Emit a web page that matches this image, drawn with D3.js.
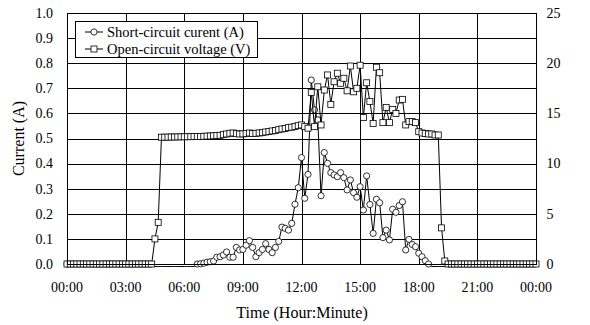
<!DOCTYPE html>
<html>
<head>
<meta charset="utf-8">
<script src="https://cdn.jsdelivr.net/npm/d3@7"></script>
<style>
  html, body { margin: 0; padding: 0; background: #fff; }
  svg { display: block; }
  text { font-family: "Liberation Serif", "Times New Roman", serif; fill: #000; }
</style>
</head>
<body>
<svg id="chart" width="590" height="325"></svg>
<script>
// ---- Data (10-minute samples, 00:00 .. 24:00) ----
const xTickLabels = ["00:00","03:00","06:00","09:00","12:00","15:00","18:00","21:00","00:00"];
const xTickHours = [0,3,6,9,12,15,18,21,24];
const yLeftTicks = [0.0,0.1,0.2,0.3,0.4,0.5,0.6,0.7,0.8,0.9,1.0];
const yRightTicks = [0,5,10,15,20,25];
const seriesNames = ["Short-circuit curent (A)", "Open-circuit voltage (V)"];

const currentA = [
  0,
  -0.01,-0.01,-0.01,-0.01,-0.01,-0.01,-0.01,-0.01,-0.01,-0.01,
  -0.01,-0.01,-0.01,-0.01,-0.01,-0.01,-0.01,-0.01,-0.01,-0.01,
  -0.01,-0.01,-0.01,-0.01,-0.01,-0.01,-0.01,-0.01,-0.01,-0.01,
  -0.01,-0.01,-0.01,-0.01,-0.01,-0.01,-0.01,-0.01,-0.01,
  0.000,0.001,0.003,0.007,0.009,0.012,0.027,0.029,0.036,0.048,
  0.027,0.027,0.066,0.056,0.058,0.075,0.093,0.066,0.029,0.045,
  0.058,0.081,0.058,0.045,0.066,0.090,0.147,0.142,0.135,0.162,
  0.238,0.304,0.424,0.262,0.357,0.733,0.614,0.574,0.272,0.444,
  0.401,0.364,0.355,0.348,0.364,0.344,0.295,0.335,0.284,0.266,
  0.308,0.215,0.351,0.237,0.122,0.258,0.244,0.105,0.135,0.096,
  0.218,0.206,0.233,0.248,0.056,0.098,0.078,0.069,0.043,0.029,
  0.013,0.000,
  -0.01,-0.01,-0.01,-0.01,-0.01,-0.01,-0.01,-0.01,-0.01,-0.01,
  -0.01,-0.01,-0.01,-0.01,-0.01,-0.01,-0.01,-0.01,-0.01,-0.01,
  -0.01,-0.01,-0.01,-0.01,-0.01,-0.01,-0.01,-0.01,-0.01,-0.01,
  -0.01,-0.01,-0.01
];

const voltageV = [
  0,0,0,0,0,0,0,0,0,0,
  0,0,0,0,0,0,0,0,0,0,
  0,0,0,0,0,0,0,
  2.50,4.15,12.63,
  12.63,12.64,12.65,12.65,12.66,12.67,12.67,12.68,12.68,12.70,
  12.70,12.71,12.72,12.74,12.75,12.77,12.80,12.82,12.88,12.95,
  13.02,13.05,12.98,12.95,12.96,13.00,13.05,13.00,13.02,13.05,
  13.08,13.15,13.20,13.25,13.30,13.38,13.45,13.50,13.58,13.63,
  13.70,13.78,13.85,13.68,13.53,17.10,13.68,17.65,13.85,17.33,
  18.83,15.90,18.15,19.00,18.00,18.50,17.25,19.72,17.15,17.50,
  19.80,14.58,18.05,16.18,14.00,19.60,19.05,14.08,15.60,14.08,
  15.40,15.00,16.33,16.40,13.85,14.18,14.18,14.08,13.18,13.05,
  13.00,12.95,12.95,12.85,12.85,3.60,0.30,
  0,0,0,0,0,0,0,0,0,0,
  0,0,0,0,0,0,0,0,0,0,
  0,0,0,0,0,0,0,0
];

// time of each sample in hours (10-minute steps)
const timeH = currentA.map((_, i) => i / 6);

// ---- Layout ----
const svg = d3.select("#chart");
const L = 67, R = 536, T = 13, B = 264;

const x = d3.scaleLinear().domain([0, 24]).range([L, R]);
const yL = d3.scaleLinear().domain([0, 1]).range([B, T]);
const yR = d3.scaleLinear().domain([0, 25]).range([B, T]);

// grid
const grid = svg.append("g").attr("shape-rendering", "crispEdges");
grid.selectAll("line.h").data(yLeftTicks.slice(1, -1)).enter().append("line")
  .attr("x1", L).attr("x2", R)
  .attr("y1", d => Math.round(yL(d)) + 0.5).attr("y2", d => Math.round(yL(d)) + 0.5)
  .attr("stroke", "#000").attr("stroke-width", 1);
grid.selectAll("line.v").data(xTickHours.slice(1, -1)).enter().append("line")
  .attr("y1", T).attr("y2", B)
  .attr("x1", d => Math.round(x(d)) + 0.5).attr("x2", d => Math.round(x(d)) + 0.5)
  .attr("stroke", "#000").attr("stroke-width", 1);

// left axis labels
svg.append("g").selectAll("text").data(yLeftTicks).enter().append("text")
  .attr("x", 53).attr("y", d => yL(d) + 4.8)
  .attr("text-anchor", "end").attr("font-size", 14)
  .text(d => d.toFixed(1));

// right axis labels
svg.append("g").selectAll("text").data(yRightTicks).enter().append("text")
  .attr("x", 546.5).attr("y", d => yR(d) + 4.8)
  .attr("text-anchor", "start").attr("font-size", 14)
  .text(d => d);

// x axis labels
svg.append("g").selectAll("text").data(xTickHours).enter().append("text")
  .attr("x", d => x(d)).attr("y", 291.5)
  .attr("text-anchor", "middle").attr("font-size", 14)
  .text((d, i) => xTickLabels[i]);

// axis titles
svg.append("text").attr("x", 302).attr("y", 317.5)
  .attr("text-anchor", "middle").attr("font-size", 16)
  .text("Time (Hour:Minute)");
svg.append("text")
  .attr("transform", "translate(24,138.5) rotate(-90)")
  .attr("text-anchor", "middle").attr("font-size", 16)
  .text("Current (A)");

svg.append("clipPath").attr("id", "rclip")
  .append("rect").attr("x", 540).attr("y", 0).attr("width", 32).attr("height", 325);
svg.append("text")
  .attr("clip-path", "url(#rclip)")
  .attr("transform", "translate(576,138.5) rotate(-90)")
  .attr("text-anchor", "middle").attr("font-size", 16)
  .text("Voltage (V)");

// current series
const lineC = d3.line().x((d, i) => x(timeH[i])).y(d => yL(d));
svg.append("path").datum(currentA)
  .attr("d", lineC).attr("fill", "none").attr("stroke", "#000").attr("stroke-width", 1);
svg.append("g").selectAll("circle")
  .data(currentA.map((v, i) => ({ t: timeH[i], v })).filter(d => d.v >= 0))
  .enter().append("circle")
  .attr("cx", d => x(d.t)).attr("cy", d => yL(d.v)).attr("r", 3.1)
  .attr("fill", "#fff").attr("stroke", "#000").attr("stroke-width", 0.8);

// voltage series
const lineV = d3.line().x((d, i) => x(timeH[i])).y(d => yR(d));
svg.append("path").datum(voltageV)
  .attr("d", lineV).attr("fill", "none").attr("stroke", "#000").attr("stroke-width", 1);
svg.append("g").selectAll("rect")
  .data(voltageV.map((v, i) => ({ t: timeH[i], v })))
  .enter().append("rect")
  .attr("x", d => x(d.t) - 3).attr("y", d => yR(d.v) - 3)
  .attr("width", 6).attr("height", 6)
  .attr("fill", "#fff").attr("stroke", "#000").attr("stroke-width", 0.8);

// plot border
svg.append("rect").attr("x", L + 0.5).attr("y", T + 0.5)
  .attr("width", R - L).attr("height", B - T)
  .attr("fill", "none").attr("stroke", "#000").attr("stroke-width", 1)
  .attr("shape-rendering", "crispEdges");

// legend
const lg = svg.append("g");
lg.append("rect").attr("x", 75.5).attr("y", 21.5).attr("width", 182).attr("height", 36)
  .attr("fill", "#fff").attr("stroke", "#000").attr("stroke-width", 1)
  .attr("shape-rendering", "crispEdges");
const rows = [32, 49];
rows.forEach((ry, k) => {
  lg.append("line").attr("x1", 85).attr("x2", 103).attr("y1", ry).attr("y2", ry)
    .attr("stroke", "#000").attr("stroke-width", 1);
  if (k === 0) {
    lg.append("circle").attr("cx", 94).attr("cy", ry).attr("r", 3.1)
      .attr("fill", "#fff").attr("stroke", "#000").attr("stroke-width", 0.8);
  } else {
    lg.append("rect").attr("x", 91).attr("y", ry - 3).attr("width", 6).attr("height", 6)
      .attr("fill", "#fff").attr("stroke", "#000").attr("stroke-width", 0.8);
  }
  lg.append("text").attr("x", 107).attr("y", ry + 4.8).attr("font-size", 14.5)
    .text(seriesNames[k]);
});
</script>
</body>
</html>
